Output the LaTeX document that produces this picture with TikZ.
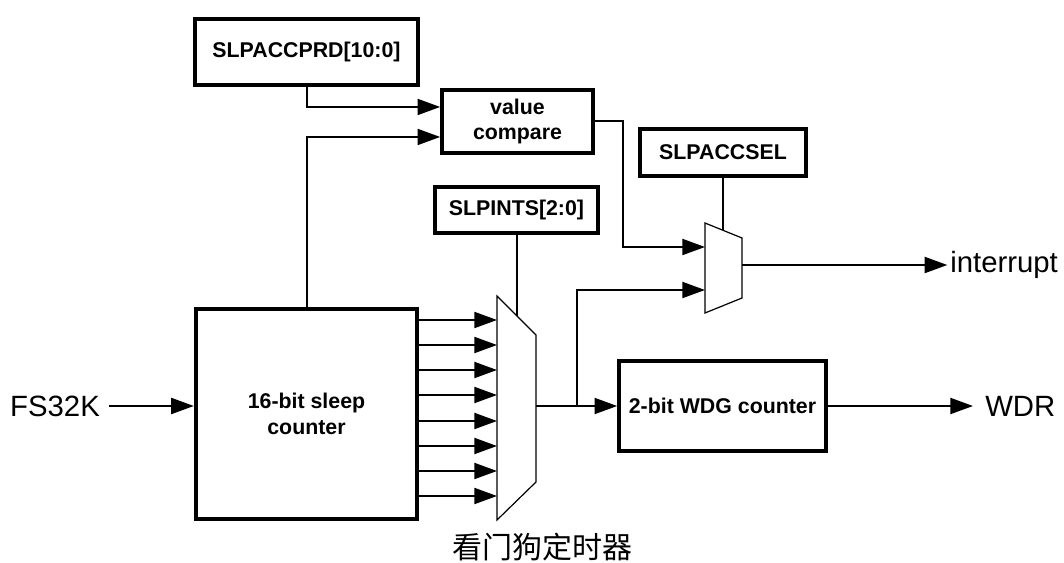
\documentclass[tikz,border=0pt]{standalone}
\usepackage{fontspec}
\setmainfont{Liberation Sans}
\newfontfamily\cjk{Noto Sans CJK SC}
\usetikzlibrary{arrows.meta}

\tikzset{
  reg/.style={draw, line width=3pt, align=center, inner sep=0pt,
    font=\fontsize{16}{18.5}\selectfont\bfseries},
  wire/.style={line width=1.5pt},
  arr/.style={wire, -{Triangle[length=17pt,width=12pt]}},
  mux/.style={draw, line width=0.9pt},
  lbl/.style={inner sep=0pt, font=\fontsize{22}{26}\selectfont},
}

\begin{document}
\begin{tikzpicture}[x=0.75pt,y=-0.75pt]
  \useasboundingbox (0,0) rectangle (1064,563);

  \node[reg, minimum width=167pt, minimum height=49.5pt] (prd) at (306.5,52) {SLPACCPRD[10:0]};
  \node[reg, minimum width=113pt, minimum height=47pt] (cmp) at (517.5,121.5) {value\\compare};
  \node[reg, minimum width=124.5pt, minimum height=35pt] (sel) at (723,152.5) {SLPACCSEL};
  \node[reg, minimum width=122pt, minimum height=34.5pt] (ints) at (516.5,210) {SLPINTS[2:0]};
  \node[reg, minimum width=166pt, minimum height=157.5pt,
        font=\fontsize{16}{20}\selectfont\bfseries] (cnt) at (306.5,414) {16-bit sleep\\counter};
  \node[reg, minimum width=155pt, minimum height=67.5pt] (wdg) at (722.5,406) {2-bit WDG counter};

  \node[lbl] (fs) at (55,406) {FS32K};
  \node[lbl, anchor=west] (irq) at (950,265) {interrupt};
  \node[lbl, anchor=west] (wdr) at (985,406) {WDR};
  \node[font=\cjk\fontsize{22.5}{26}\selectfont, inner sep=0pt] (title) at (542,547) {看门狗定时器};

  % select muxes
  \draw[mux] (497,296) coordinate (m1tl) -- (536,335) -- (536,482) -- (497,520) -- cycle;
  \draw[mux] (705,223) coordinate (m2tl) -- (742,238) -- (742,298) -- (705,313) -- cycle;
  \coordinate (m1sel) at (516.5,315.5);
  \coordinate (m1out) at (536,406);
  \coordinate (br) at (577,406);
  \coordinate (m2a) at (705,247);
  \coordinate (m2b) at (705,290);
  \coordinate (m2sel) at (723,230);
  \coordinate (m2out) at (742,265);
  \coordinate (k1) at (623,247);

  \draw[arr] (prd.south) |- ([yshift=10.9pt]cmp.west);
  \draw[arr] (cnt.north) |- ([yshift=-11.6pt]cmp.west);
  \draw[arr] (cmp.east) -| (k1) -- (m2a);
  \draw[wire] (sel.south) -- (m2sel);
  \draw[wire] (ints.south) -- (m1sel);

  \foreach \y in {320,345,370,395,421,446,471,496} {
    \draw[arr] (cnt.east |- 0,\y) -- (m1tl |- 0,\y);
  }

  \draw[arr] ([xshift=7pt]fs.east) -- (cnt.west |- fs.east);
  \draw[arr] (m1out) -- (wdg.west);
  \draw[arr] (br) |- (m2b);
  \draw[arr] (m2out) -- ([xshift=-2pt]irq.west);
  \draw[arr] (wdg.east) -- ([xshift=-9pt]wdr.west);

\end{tikzpicture}
\end{document}
